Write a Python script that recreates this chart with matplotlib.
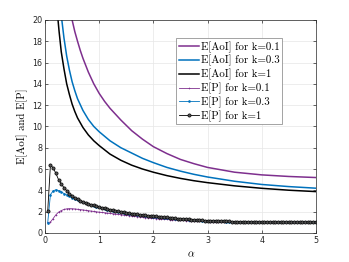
import numpy as np
import matplotlib
matplotlib.use("Agg")
import matplotlib.pyplot as plt

plt.rcParams['mathtext.fontset'] = 'cm'

# E[AoI] curves: alpha values and values
aoi_alpha_k01 = [0.5, 0.55, 0.6, 0.65, 0.7, 0.8, 0.9, 1.0, 1.1, 1.2, 1.4, 1.6,
                 1.8, 2.0, 2.25, 2.5, 2.75, 3.0, 3.5, 4.0, 4.5, 5.0]
aoi_k01 = [20.0, 18.9, 18.0, 17.15, 16.4, 15.1, 14.0, 13.1, 12.35, 11.7, 10.6,
           9.6, 8.8, 8.1, 7.45, 6.9, 6.5, 6.15, 5.7, 5.45, 5.3, 5.2]

aoi_alpha_k03 = [0.31, 0.35, 0.4, 0.45, 0.5, 0.55, 0.6, 0.7, 0.8, 0.9, 1.0,
                 1.2, 1.4, 1.6, 1.8, 2.0, 2.25, 2.5, 2.75, 3.0, 3.5, 4.0, 4.5,
                 5.0]
aoi_k03 = [20.0, 18.3, 16.6, 15.3, 14.2, 13.35, 12.6, 11.5, 10.65, 10.0, 9.5,
           8.65, 8.0, 7.5, 7.0, 6.6, 6.15, 5.8, 5.5, 5.25, 4.85, 4.55, 4.35,
           4.2]

aoi_alpha_k1 = [0.24, 0.26, 0.3, 0.35, 0.4, 0.45, 0.5, 0.55, 0.6, 0.7, 0.8,
                0.9, 1.0, 1.2, 1.4, 1.6, 1.8, 2.0, 2.25, 2.5, 2.75, 3.0, 3.5,
                4.0, 4.5, 5.0]
aoi_k1 = [20.0, 18.9, 17.0, 15.4, 14.0, 13.0, 12.1, 11.4, 10.8, 9.9, 9.2,
          8.65, 8.2, 7.4, 6.82, 6.36, 6.0, 5.7, 5.38, 5.12, 4.9, 4.72, 4.42,
          4.19, 4.01, 3.88]

# E[P] curves on alpha = 0.05, 0.10, ..., 5.00
p_alpha = np.round(np.arange(1, 101) * 0.05, 2)
p_k01 = [0.97, 1.02, 1.35, 1.70, 1.95, 2.10, 2.20, 2.26, 2.28, 2.27,
         2.25, 2.22, 2.19, 2.16, 2.12, 2.09, 2.05, 2.02, 1.98, 1.95,
         1.92, 1.89, 1.86, 1.83, 1.80, 1.77, 1.74, 1.71, 1.68, 1.65,
         1.62, 1.59, 1.56, 1.53, 1.50, 1.47, 1.44, 1.41, 1.38, 1.36,
         1.34, 1.32, 1.30, 1.28, 1.26, 1.24, 1.23, 1.21, 1.20, 1.18,
         1.17, 1.16, 1.15, 1.14, 1.13, 1.12, 1.11, 1.10, 1.09, 1.08,
         1.07, 1.07, 1.06, 1.05, 1.05, 1.04, 1.04, 1.03, 1.03, 1.02,
         1.02, 1.02, 1.01, 1.01, 1.01, 1.00, 1.00, 1.00, 1.00, 1.00,
         1.00, 1.00, 1.00, 1.00, 1.00, 1.00, 1.00, 1.00, 1.00, 1.00,
         1.00, 1.00, 1.00, 1.00, 1.00, 1.00, 1.00, 1.00, 1.00, 1.00]
p_k03 = [0.97, 3.60, 3.95, 4.05, 3.98, 3.85, 3.70, 3.57, 3.42, 3.30,
         3.17, 3.06, 2.96, 2.87, 2.78, 2.70, 2.62, 2.55, 2.48, 2.40,
         2.32, 2.25, 2.19, 2.14, 2.09, 2.04, 1.99, 1.94, 1.90, 1.86,
         1.82, 1.78, 1.74, 1.71, 1.68, 1.65, 1.62, 1.59, 1.56, 1.54,
         1.51, 1.48, 1.46, 1.43, 1.41, 1.39, 1.36, 1.34, 1.32, 1.30,
         1.28, 1.26, 1.24, 1.22, 1.21, 1.19, 1.17, 1.16, 1.15, 1.13,
         1.12, 1.11, 1.10, 1.09, 1.08, 1.08, 1.07, 1.06, 1.06, 1.05,
         1.05, 1.04, 1.04, 1.03, 1.03, 1.02, 1.02, 1.02, 1.01, 1.01,
         1.01, 1.01, 1.01, 1.01, 1.00, 1.00, 1.00, 1.00, 1.00, 1.00,
         1.00, 1.00, 1.00, 1.00, 1.00, 1.00, 1.00, 1.00, 1.00, 1.00]
p_k1 = [2.06, 6.40, 6.10, 5.60, 5.00, 4.60, 4.25, 3.97, 3.70, 3.50,
        3.32, 3.17, 3.04, 2.93, 2.83, 2.74, 2.66, 2.58, 2.51, 2.45,
        2.38, 2.31, 2.25, 2.19, 2.13, 2.08, 2.03, 1.98, 1.94, 1.90,
        1.86, 1.82, 1.78, 1.75, 1.72, 1.69, 1.66, 1.63, 1.60, 1.58,
        1.55, 1.52, 1.50, 1.47, 1.45, 1.42, 1.40, 1.37, 1.35, 1.33,
        1.31, 1.29, 1.27, 1.25, 1.23, 1.21, 1.19, 1.18, 1.16, 1.15,
        1.14, 1.13, 1.12, 1.11, 1.10, 1.09, 1.08, 1.08, 1.07, 1.06,
        1.06, 1.05, 1.05, 1.04, 1.04, 1.03, 1.03, 1.03, 1.02, 1.02,
        1.02, 1.02, 1.01, 1.01, 1.01, 1.01, 1.01, 1.01, 1.00, 1.00,
        1.00, 1.00, 1.00, 1.00, 1.00, 1.00, 1.00, 1.00, 1.00, 1.00]

x_ticks = [0, 1, 2, 3, 4, 5]
y_ticks = list(range(0, 21, 2))

purple = '#7E2F8E'
blue = '#0072BD'

fig = plt.figure(figsize=(3.49, 2.62), dpi=100)
ax = fig.add_axes([0.129, 0.111, 0.776, 0.813])

ax.plot(aoi_alpha_k01, aoi_k01, color=purple, lw=1.1, label='E[AoI] for k=0.1')
ax.plot(aoi_alpha_k03, aoi_k03, color=blue, lw=1.1, label='E[AoI] for k=0.3')
ax.plot(aoi_alpha_k1, aoi_k1, color='black', lw=1.1, label='E[AoI] for k=1')
ax.plot(p_alpha, p_k01, color=purple, lw=0.6, marker='+', ms=1.5, mew=0.4,
        label='E[P] for k=0.1')
ax.plot(p_alpha, p_k03, color=blue, lw=0.6, marker='.', ms=1.8,
        label='E[P] for k=0.3')
ax.plot(p_alpha, p_k1, color='black', lw=0.6, marker='o', ms=2.3, mew=0.5,
        mfc='#555555', mec='black', label='E[P] for k=1')

ax.set_xlim(0, 5)
ax.set_ylim(0, 20)
ax.set_xticks(x_ticks)
ax.set_yticks(y_ticks)
ax.grid(True, color='#E6E6E6', lw=0.5)
ax.set_axisbelow(True)
ax.tick_params(direction='in', top=True, right=True, length=2.5, width=0.5,
               labelsize=5.8, colors='#262626', pad=2)
for s in ax.spines.values():
    s.set_linewidth(0.5)
    s.set_color('#262626')

ax.set_xlabel(r'$\alpha$', fontsize=7.5, labelpad=1)
ax.xaxis.set_label_coords(0.54, -0.075)
ax.set_ylabel('E[AoI] and E[P]', family='cmr10', fontsize=7.8, labelpad=3)

leg = ax.legend(loc='upper left', bbox_to_anchor=(0.483, 0.913),
                prop={'family': 'cmr10', 'size': 7.8}, fancybox=False,
                framealpha=1, edgecolor='#7F7F7F', handlelength=1.9,
                handletextpad=0.15, borderpad=0.25, labelspacing=0.22,
                borderaxespad=0)
leg.get_frame().set_linewidth(0.5)

fig.savefig('out.png', dpi=100)
